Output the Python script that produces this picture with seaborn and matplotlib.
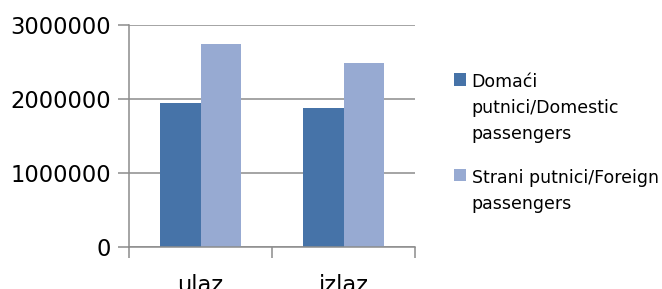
import numpy as np
import pandas as pd
import matplotlib
matplotlib.use("Agg")
import matplotlib.pyplot as plt
import seaborn as sns

# values
categories = ["ulaz", "izlaz"]
series_names = ["Domaći\nputnici/Domestic\npassengers",
                "Strani putnici/Foreign\npassengers"]
domestic = [1946000, 1870000]
foreign = [2735000, 2482000]
y_ticks = [0, 1000000, 2000000, 3000000]
colors = ["#4673A8", "#97AAD2"]

df = pd.DataFrame({
    "kategorija": categories * 2,
    "serija": [series_names[0]] * 2 + [series_names[1]] * 2,
    "putnici": domestic + foreign,
})

sns.set_style("white", {"xtick.bottom": True, "ytick.left": True,
                        "text.color": "black", "xtick.color": "black",
                        "ytick.color": "black"})
plt.rcParams["font.family"] = ["DejaVu Sans"]

fig = plt.figure(figsize=(6.62, 2.89), dpi=100)
ax = fig.add_axes([0.1949, 0.1464, 0.432, 0.768])

sns.barplot(data=df, x="kategorija", y="putnici", hue="serija",
            palette=colors, width=0.566, saturation=1, ax=ax,
            edgecolor="none", linewidth=0, legend=True)

ax.set_xlim(-0.5, 1.5)
ax.set_ylim(0, 3000000)
ax.set_yticks(y_ticks)
ax.set_yticklabels([str(v) for v in y_ticks], fontsize=16.3, color="black")
ax.yaxis.grid(True, color="#8c8c8c", linewidth=1.1)
ax.set_axisbelow(True)
ax.set_xlabel("")
ax.set_ylabel("")

# category boundary ticks like Excel
ax.set_xticks([-0.5, 0.5, 1.5])
ax.set_xticklabels([])
ax.set_xticks([0, 1], minor=True)
ax.set_xticklabels(categories, minor=True, fontsize=16.3, color="black")
ax.tick_params(axis="x", which="major", length=8, width=1.1, color="#8c8c8c",
               direction="out", bottom=True)
ax.tick_params(axis="x", which="minor", length=0, pad=20, bottom=True)
ax.tick_params(axis="y", length=8, width=1.1, color="#8c8c8c", pad=5,
               direction="out", left=True)

for side in ["top", "right"]:
    ax.spines[side].set_visible(False)
for side in ["left", "bottom"]:
    ax.spines[side].set_color("#8c8c8c")
    ax.spines[side].set_linewidth(1.1)

handles, labels = ax.get_legend_handles_labels()
leg = ax.legend(handles, labels, loc="center left", bbox_to_anchor=(1.08, 0.467),
                frameon=False, fontsize=12.5, handlelength=0.7, handleheight=0.7,
                handletextpad=0.35, labelspacing=1.5)
for t in leg.get_texts():
    t.set_linespacing(1.55)
    t.set_color("black")
# put the colour square next to the first text line, as Excel does
for col in leg._legend_handle_box.get_children():
    for row in col.get_children():
        row.align = "top"

fig.savefig("out.png", dpi=100)
